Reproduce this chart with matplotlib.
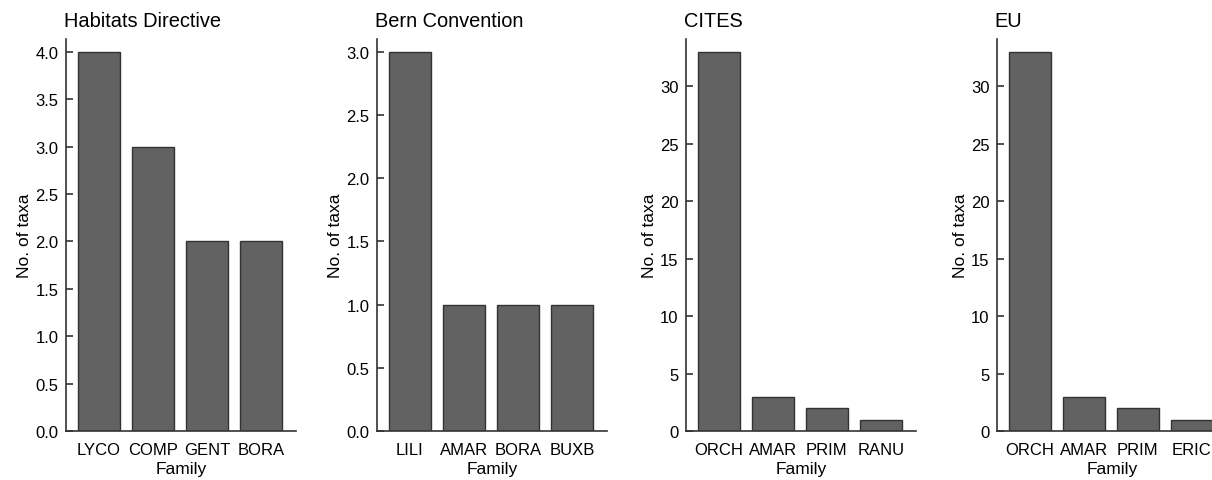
import matplotlib.pyplot as plt
import numpy as np

plt.rcParams['font.family'] = ['Liberation Sans', 'DejaVu Sans']
plt.rcParams['font.size'] = 12

titles = ['Habitats Directive', 'Bern Convention', 'CITES', 'EU']
families = [['LYCO', 'COMP', 'GENT', 'BORA'],
            ['LILI', 'AMAR', 'BORA', 'BUXB'],
            ['ORCH', 'AMAR', 'PRIM', 'RANU'],
            ['ORCH', 'AMAR', 'PRIM', 'ERIC']]
counts = [[4, 3, 2, 2],
          [3, 1, 1, 1],
          [33, 3, 2, 1],
          [33, 3, 2, 1]]
yticks = [np.arange(0, 4.01, 0.5), np.arange(0, 3.01, 0.5),
          np.arange(0, 31, 5), np.arange(0, 31, 5)]
yfmt = ['{:.1f}', '{:.1f}', '{:.0f}', '{:.0f}']

fig = plt.figure(figsize=(12.12, 4.81), dpi=100)
lefts = [66, 377, 686, 997]
for i in range(4):
    ax = fig.add_axes([lefts[i] / 1212, 1 - 432 / 481, 230 / 1212, 392 / 481])
    x = np.arange(4)
    ax.bar(x, counts[i], width=0.78, color='#626262', edgecolor='#333333', linewidth=1)
    ax.set_xlim(-0.61, 3.65)
    ax.set_ylim(0, max(counts[i]) * 1.034)
    ax.set_xticks(x)
    ax.set_xticklabels(families[i])
    ax.set_yticks(yticks[i])
    ax.set_yticklabels([yfmt[i].format(v) for v in yticks[i]])
    ax.tick_params(axis='y', direction='in', length=5, color='#333333', width=1.2, pad=5.5)
    ax.tick_params(axis='x', length=0, pad=8)
    for s in ['top', 'right']:
        ax.spines[s].set_visible(False)
    for s in ['left', 'bottom']:
        ax.spines[s].set_color('#333333')
        ax.spines[s].set_linewidth(1.2)
    ax.set_xlabel('Family', labelpad=3, fontsize=12.5)
    ax.set_ylabel('No. of taxa', labelpad=2, fontsize=12.5)
    ax.set_title(titles[i], loc='left', x=-0.01, pad=9)

fig.savefig('out.png', dpi=100)
